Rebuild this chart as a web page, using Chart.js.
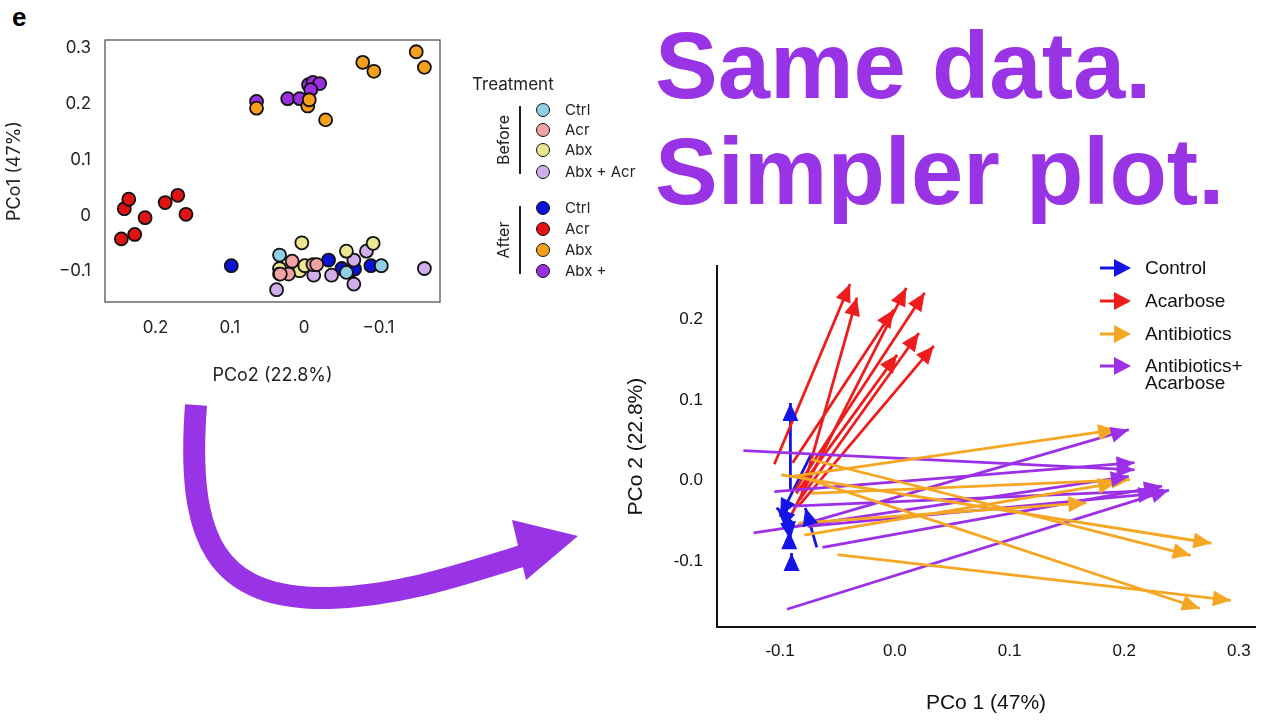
<!DOCTYPE html>
<html><head><meta charset="utf-8">
<script src="https://cdn.jsdelivr.net/npm/chart.js@4"></script>
<style>
body{margin:0;width:1280px;height:720px;background:#fff;position:relative;overflow:hidden;font-family:Inter,"Liberation Sans",sans-serif}
canvas{position:absolute}
.big{position:absolute;left:655px;color:#9933e6;font:bold 94px "Liberation Sans",Arial,sans-serif;white-space:nowrap}
.lg{position:absolute;font-size:15px;color:#222;white-space:nowrap}
.dot{position:absolute;width:12px;height:12px;border-radius:50%;border:1.8px solid #111}
.rl{position:absolute;font:19px "Liberation Sans",Arial,sans-serif;color:#111;white-space:nowrap;line-height:17px}
</style></head><body>
<div style="position:absolute;left:12px;top:2px;font:bold 26px 'Liberation Sans',Arial">e</div>
<div id="leftWrap" style="position:absolute;left:0;top:0;width:450px;height:390px"><canvas id="c1"></canvas></div>
<div id="rightWrap" style="position:absolute;left:620px;top:250px;width:660px;height:470px"><canvas id="c2"></canvas></div>
<div class="big" style="top:12px">Same data.</div>
<div class="big" style="top:118px">Simpler plot.</div>
<svg style="position:absolute;left:0;top:0" width="1280" height="720">
<path d="M196,405 C186,540 215,600 330,598 C400,596 460,575 525,555" fill="none" stroke="#9933e6" stroke-width="22"/>
<polygon points="512,520 578,536 526,580" fill="#9933e6"/>
</svg>
<div id="leg1"></div>
<div id="leg2"></div>
<script>
// ---------- Left chart data (PCo2 = x, PCo1 = y) ----------
const leftGroups = ["Before Ctrl","Before Acr","Before Abx","Before Abx + Acr","After Ctrl","After Acr","After Abx","After Abx + Acr"];
const leftLabels = ["Ctrl","Acr","Abx","Abx + Acr","Ctrl","Acr","Abx","Abx + Acr"];
const leftColors = ["#8fd0e8","#f2a3a6","#ede691","#cfaeea","#0a12d6","#e01212","#f5a01c","#9a2fe0"];
const beforeCtrlX = [0.033,-0.104,-0.057];
const beforeCtrlY = [-0.071,-0.090,-0.102];
const beforeAcrX = [0.016,0.021,-0.012,-0.017,0.032];
const beforeAcrY = [-0.082,-0.105,-0.088,-0.088,-0.105];
const beforeAbxX = [0.003,-0.057,-0.093,0.033,0.033,0.006,-0.001];
const beforeAbxY = [-0.049,-0.064,-0.050,-0.095,-0.105,-0.099,-0.090];
const beforeAbxAcrX = [0.037,-0.013,-0.037,-0.067,-0.084,-0.067,-0.162];
const beforeAbxAcrY = [-0.133,-0.107,-0.107,-0.123,-0.064,-0.080,-0.095];
const afterCtrlX = [0.098,-0.033,-0.051,-0.061,-0.068,-0.090];
const afterCtrlY = [-0.090,-0.080,-0.095,-0.101,-0.096,-0.090];
const afterAcrX = [0.246,0.242,0.236,0.228,0.214,0.187,0.170,0.159];
const afterAcrY = [-0.042,0.012,0.029,-0.034,-0.004,0.023,0.036,0.002];
const afterAbxX = [-0.151,-0.162,-0.079,-0.094,-0.029,-0.005,-0.007,0.064];
const afterAbxY = [0.293,0.265,0.274,0.258,0.171,0.196,0.207,0.192];
const afterAbxAcrX = [0.064,0.022,0.006,-0.006,-0.012,-0.021,-0.009];
const afterAbxAcrY = [0.204,0.209,0.209,0.234,0.238,0.236,0.225];
const leftXTicks = [0.2,0.1,0,-0.1];
const leftYTicks = [0.3,0.2,0.1,0,-0.1];

// ---------- Right chart data (PCo1 = x, PCo2 = y), arrows start -> end ----------
const rightGroups = ["Control","Acarbose","Antibiotics","Antibiotics+\nAcarbose"];
const rightColors = ["#1414e6","#ee1c1c","#f5a623","#9b30e8"];
const controlStartX = [-0.091,-0.068,-0.073,-0.089,-0.095,-0.090,-0.092];
const controlStartY = [-0.012,-0.083,0.032,-0.053,-0.032,-0.105,-0.082];
const controlEndX = [-0.091,-0.078,-0.100,-0.103,-0.091,-0.090,-0.092];
const controlEndY = [0.096,-0.034,-0.045,-0.034,-0.074,-0.090,-0.063];
const acarboseStartX = [-0.105,-0.081,-0.089,-0.091,-0.087,-0.083,-0.086,-0.084];
const acarboseStartY = [0.020,-0.016,0.022,-0.045,-0.012,-0.024,-0.016,-0.032];
const acarboseEndX = [-0.039,-0.033,-0.001,0.010,0.026,0.021,0.002,0.034];
const acarboseEndY = [0.244,0.227,0.212,0.239,0.233,0.183,0.156,0.167];
const antibioticsStartX = [-0.089,-0.099,-0.073,-0.083,-0.050,-0.079,-0.084,-0.073];
const antibioticsStartY = [0.005,0.007,0.026,0.005,-0.092,-0.068,-0.053,-0.016];
const antibioticsEndX = [0.193,0.276,0.258,0.266,0.293,0.193,0.167,0.205];
const antibioticsEndY = [0.063,-0.078,-0.093,-0.159,-0.149,-0.003,-0.028,0.001];
const abxAcrStartX = [-0.132,-0.105,-0.123,-0.094,-0.063,-0.086,-0.089,-0.076];
const abxAcrStartY = [0.037,-0.014,-0.065,-0.160,-0.083,-0.057,-0.032,-0.057];
const abxAcrEndX = [0.209,0.209,0.204,0.239,0.233,0.204,0.234,0.228];
const abxAcrEndY = [0.013,0.022,0.005,-0.012,-0.007,0.063,-0.012,-0.016];
const rightXTicks = [-0.1,0.0,0.1,0.2,0.3];
const rightYTicks = [0.2,0.1,0.0,-0.1];

// ---------- Left chart ----------
const lx=[beforeCtrlX,beforeAcrX,beforeAbxX,beforeAbxAcrX,afterCtrlX,afterAcrX,afterAbxX,afterAbxAcrX];
const ly=[beforeCtrlY,beforeAcrY,beforeAbxY,beforeAbxAcrY,afterCtrlY,afterAcrY,afterAbxY,afterAbxAcrY];
const leftDatasets = leftGroups.map((g,i)=>({label:g,data:lx[i].map((x,j)=>({x,y:ly[i][j]})),
  backgroundColor:leftColors[i],borderColor:"#111",borderWidth:1.8,pointRadius:6.5}));
const boxPlugin={id:'box',afterDraw(ch){const a=ch.chartArea,c=ch.ctx;c.save();c.strokeStyle='#444';c.lineWidth=1.2;c.strokeRect(a.left,a.top,a.right-a.left,a.bottom-a.top);c.restore();}};
const f1={family:'Inter, "Liberation Sans", sans-serif',size:17};
new Chart(document.getElementById('c1'),{type:'scatter',data:{datasets:leftDatasets},
 options:{responsive:true,maintainAspectRatio:false,animation:false,
  layout:{padding:{left:0,top:40,right:10,bottom:0}},
  plugins:{legend:{display:false},tooltip:{enabled:false}},
  scales:{
   x:{reverse:true,min:-0.183,max:0.268,grid:{display:false},border:{display:false},
      afterBuildTicks:s=>{s.ticks=leftXTicks.map(v=>({value:v}));},afterFit:s=>{s.height=88;},
      ticks:{color:'#222',font:f1,padding:8,callback:v=>v===0?'0':(v<0?'\u2212'+Math.abs(v):String(v))},
      title:{display:true,text:'PCo2 (22.8%)',color:'#222',font:{...f1,size:18},padding:{top:6}}},
   y:{min:-0.155,max:0.314,grid:{display:false},border:{display:false},
      afterBuildTicks:s=>{s.ticks=leftYTicks.map(v=>({value:v}));},afterFit:s=>{s.width=105;},
      ticks:{color:'#222',font:f1,padding:6,callback:v=>v===0?'0':(v<0?'\u2212'+Math.abs(v):String(v))},
      title:{display:true,text:'PCo1 (47%)',color:'#222',font:{...f1,size:18},padding:{bottom:4}}}
  }},plugins:[boxPlugin]});

// left legend (HTML)
(function(){const L=document.getElementById('leg1');let h='<div class="lg" style="left:472px;top:74px;font-size:17px">Treatment</div>';
 const ys=[110,130,150,172,208,229,250,271];
 h+='<div style="position:absolute;left:519px;top:106px;width:2px;height:68px;background:#222"></div>';
 h+='<div style="position:absolute;left:519px;top:206px;width:2px;height:68px;background:#222"></div>';
 h+='<div class="lg" style="left:478px;top:130px;transform:rotate(-90deg);transform-origin:center;width:50px;text-align:center;font-size:16px">Before</div>';
 h+='<div class="lg" style="left:478px;top:230px;transform:rotate(-90deg);transform-origin:center;width:50px;text-align:center;font-size:16px">After</div>';
 ys.forEach((y,i)=>{h+=`<div class="dot" style="left:536px;top:${y-7}px;background:${leftColors[i]}"></div>`;
  h+=`<div class="lg" style="left:565px;top:${y-10}px;${i==7?'width:42px;overflow:hidden':''}">${leftLabels[i]}</div>`;});
 L.innerHTML=h;})();

// ---------- Right chart ----------
const sx=[controlStartX,acarboseStartX,antibioticsStartX,abxAcrStartX],sy=[controlStartY,acarboseStartY,antibioticsStartY,abxAcrStartY];
const ex=[controlEndX,acarboseEndX,antibioticsEndX,abxAcrEndX],ey=[controlEndY,acarboseEndY,antibioticsEndY,abxAcrEndY];
const rightDatasets=[];
[2,3,1,0].forEach(g=>{sx[g].forEach((x0,j)=>{rightDatasets.push({type:'line',grp:g,
  data:[{x:x0,y:sy[g][j]},{x:ex[g][j],y:ey[g][j]}],borderColor:rightColors[g],borderWidth:2.8,pointRadius:0,fill:false});});});
const arrowPlugin={id:'arrows',afterDatasetsDraw(ch){const c=ch.ctx,xs=ch.scales.x,ys=ch.scales.y;
 ch.data.datasets.forEach(d=>{const a=d.data[0],b=d.data[1];const x1=xs.getPixelForValue(a.x),y1=ys.getPixelForValue(a.y),x2=xs.getPixelForValue(b.x),y2=ys.getPixelForValue(b.y);
  const t=Math.atan2(y2-y1,x2-x1),L=18,W=8;c.save();c.fillStyle=d.borderColor;c.beginPath();c.moveTo(x2,y2);
  c.lineTo(x2-L*Math.cos(t)+W*Math.sin(t),y2-L*Math.sin(t)-W*Math.cos(t));
  c.lineTo(x2-L*Math.cos(t)-W*Math.sin(t),y2-L*Math.sin(t)+W*Math.cos(t));c.closePath();c.fill();c.restore();});}};
const f2={family:'"Liberation Sans", Arial, sans-serif',size:17};
new Chart(document.getElementById('c2'),{type:'scatter',data:{datasets:rightDatasets},
 options:{responsive:true,maintainAspectRatio:false,animation:false,
  layout:{padding:{left:0,top:15,right:25,bottom:0}},
  plugins:{legend:{display:false},tooltip:{enabled:false}},
  scales:{
   x:{min:-0.155,max:0.314,grid:{display:false,drawTicks:true,tickLength:8,tickWidth:2,tickColor:'#111'},border:{color:'#111',width:2},
      afterBuildTicks:s=>{s.ticks=rightXTicks.map(v=>({value:v}));},afterFit:s=>{s.height=93;},
      ticks:{color:'#111',font:f2,padding:6,callback:v=>v.toFixed(1)},
      title:{display:true,text:'PCo 1 (47%)',color:'#111',font:{...f2,size:21},padding:{top:4}}},
   y:{min:-0.182,max:0.266,grid:{display:false,drawTicks:true,tickLength:8,tickWidth:2,tickColor:'#111'},border:{color:'#111',width:2},
      afterBuildTicks:s=>{s.ticks=rightYTicks.map(v=>({value:v}));},afterFit:s=>{s.width=97;},
      ticks:{color:'#111',font:f2,padding:6,callback:v=>v.toFixed(1)},
      title:{display:true,text:'PCo 2 (22.8%)',color:'#111',font:{...f2,size:21},padding:{bottom:4}}}
  }},plugins:[arrowPlugin]});

// right legend
(function(){const L=document.getElementById('leg2');let h='';const ys=[268,301,334,366];
 ys.forEach((y,i)=>{const c=rightColors[i];
  h+=`<svg style="position:absolute;left:1098px;top:${y-10}px" width="36" height="20"><line x1="2" y1="10" x2="20" y2="10" stroke="${c}" stroke-width="3"/><polygon points="16,1 33,10 16,19" fill="${c}"/></svg>`;
  h+=`<div class="rl" style="left:1145px;top:${y-9}px">${rightGroups[i].replace('\n','<br>')}</div>`;});
 L.innerHTML=h;})();
</script></body></html>
